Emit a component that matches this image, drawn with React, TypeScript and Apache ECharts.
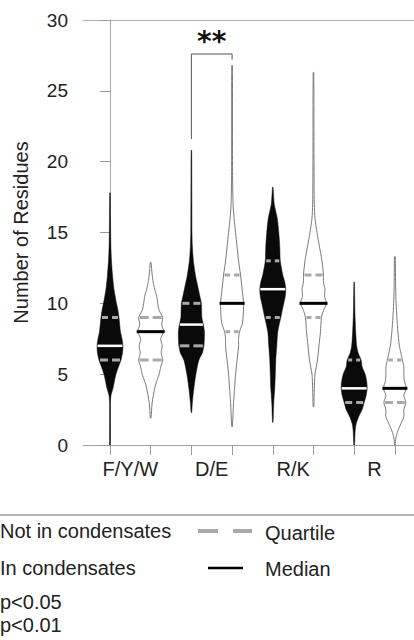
import React, { useEffect, useRef } from "react";
import * as echarts from "echarts";

// ---------- data ----------
const groupLabels = ["F/Y/W", "D/E", "R/K", "R"];
const groupLabelPos = [0.5, 2.5, 4.5, 6.5];
const violinPos = [0, 1, 2, 3, 4, 5, 6, 7];
const violinFilled = [true, false, true, false, true, false, true, false];

// [value, relative density] profiles
const fywFilled: number[][] = [[0, 0.35], [3, 0.4], [3.5, 1], [4, 3], [5, 6], [6, 11], [6.5, 12.5], [7, 13], [7.5, 12], [8, 10.5], [9, 9], [9.5, 8], [10, 6.5], [11, 4], [12, 2.5], [13, 1.5], [14, 0.9], [16, 0.5], [17.8, 0.25]];
const fywOpen: number[][] = [[1.9, 0.3], [3, 1.5], [4, 4], [4.5, 6], [5, 8.5], [5.5, 10], [6, 12], [6.5, 10.5], [7, 11.5], [7.5, 10], [8, 13], [8.5, 11], [9, 12], [9.5, 8.5], [10, 7], [10.5, 6], [11, 4], [11.5, 2.5], [12, 1.5], [12.9, 0.3]];
const deFilled: number[][] = [[2.3, 0.3], [3, 1], [4, 2.5], [5, 4.5], [6, 7.5], [6.5, 11], [7, 12.5], [7.5, 13], [8, 13], [8.5, 12], [9, 10.5], [10, 10], [10.5, 8.5], [11, 7], [12, 4], [13, 2], [14, 1], [15, 0.6], [17, 0.5], [19, 0.4], [20.8, 0.25]];
const deOpen: number[][] = [[1.3, 0.3], [3, 1.5], [4, 2.5], [5, 3.5], [6, 5], [7, 6.5], [7.5, 6.5], [8, 7.5], [8.5, 10], [9, 11], [10, 11.5], [11, 10], [12, 8.5], [13, 6.5], [14, 5], [15, 3.5], [16, 2], [17, 1], [19, 0.5], [22, 0.4], [26.8, 0.3]];
const rkFilled: number[][] = [[1.6, 0.25], [3, 1], [4, 2], [5, 2.5], [6, 3], [7, 4], [8, 5], [9, 8], [10, 11], [10.5, 12.5], [11, 13], [11.5, 12], [12, 10], [13, 7.5], [14, 7], [15, 6], [16, 4.5], [17, 1.5], [18.2, 0.25]];
const rkOpen: number[][] = [[2.7, 0.3], [4, 0.8], [5, 1.5], [6, 4], [7, 5.5], [8, 7], [9, 8], [9.5, 10], [10, 13], [10.5, 11], [11, 11.5], [11.5, 10], [12, 10], [13, 8.5], [14, 6], [15, 3.5], [16, 1.5], [17, 0.8], [20, 0.5], [26.3, 0.3]];
const rFilled: number[][] = [[0, 0.35], [1, 1], [1.5, 2], [2, 4.5], [2.5, 8], [3, 10], [3.5, 12], [4, 13], [4.5, 12.5], [5, 11], [5.5, 8], [6, 7], [6.5, 4], [7, 2.5], [8, 1.5], [9, 0.9], [10, 0.6], [11.5, 0.25]];
const rOpen: number[][] = [[0, 0.3], [0.5, 1], [1, 3], [1.5, 6], [2, 9], [2.5, 9], [3, 11], [3.5, 9], [4, 11.5], [4.5, 9.5], [5, 9], [5.5, 9], [6, 7.5], [6.5, 6], [7, 4.5], [8, 3], [9, 2], [10, 1.2], [11, 0.8], [13.3, 0.3]];

const profiles = [fywFilled, fywOpen, deFilled, deOpen, rkFilled, rkOpen, rFilled, rOpen];
const medians = [7, 8, 8.5, 10, 11, 10, 4, 4];
const lowerQuartiles = [6, 6, 7, 8, 9, 9, 3, 3];
const upperQuartiles = [9, 9, 10, 12, 13, 12, 6, 6];

const bracketX = [2, 3];
const bracketY = [21.6, 27.6, 27.2]; // left leg bottom, top, right leg bottom
const bracketLabel = "**";

const legendTexts = ["Not in condensates", "In condensates", "p<0.05", "p<0.01"];
const legendKeys = ["Quartile", "Median"];

// ---------- helpers ----------
const FONT = "'Liberation Sans', Arial, sans-serif";
const TEXT = "#222";

function densityAt(prof: number[][], v: number): number {
  for (let i = 0; i < prof.length - 1; i++) {
    const [v0, d0] = prof[i];
    const [v1, d1] = prof[i + 1];
    if (v >= v0 && v <= v1) return d0 + ((d1 - d0) * (v - v0)) / (v1 - v0);
  }
  return 0;
}

function renderViolin(params: any, api: any) {
  const i = params.dataIndex;
  const prof = profiles[i];
  const x = api.value(0);
  const unit = api.size([1, 0])[0] / 40.7;
  const pt = (v: number, d: number) => {
    const c = api.coord([x, v]);
    return [c[0] + d * unit, c[1]];
  };
  const right = prof.map(([v, d]) => pt(v, d));
  const left = prof.slice().reverse().map(([v, d]) => pt(v, -d));
  const filled = violinFilled[i];
  const children: any[] = [
    {
      type: "polygon",
      shape: { points: right.concat(left), smooth: 0.25 },
      style: filled
        ? { fill: "#0a0a0a", stroke: "#0a0a0a", lineWidth: 0.5 }
        : { fill: "#ffffff", stroke: "#7a7a7a", lineWidth: 1 },
    },
  ];
  const cx = api.coord([x, 0])[0];
  [lowerQuartiles[i], upperQuartiles[i]].forEach((q) => {
    const hw = densityAt(prof, q) * unit;
    const y = api.coord([x, q])[1];
    const gap = 2;
    children.push(
      { type: "line", shape: { x1: cx - hw + 1, y1: y, x2: cx - gap, y2: y }, style: { stroke: "#a8a8a8", lineWidth: 3 } },
      { type: "line", shape: { x1: cx + gap, y1: y, x2: cx + hw - 1, y2: y }, style: { stroke: "#a8a8a8", lineWidth: 3 } }
    );
  });
  const m = medians[i];
  const hwm = densityAt(prof, m) * unit;
  const ym = api.coord([x, m])[1];
  children.push({
    type: "line",
    shape: filled
      ? { x1: cx - hwm + 0.5, y1: ym, x2: cx + hwm - 0.5, y2: ym }
      : { x1: cx - hwm - 1, y1: ym, x2: cx + hwm + 1, y2: ym },
    style: { stroke: filled ? "#ffffff" : "#000000", lineWidth: filled ? 2.5 : 3 },
  });
  return { type: "group", children };
}

function renderBracket(params: any, api: any) {
  const p0 = api.coord([bracketX[0], bracketY[0]]);
  const p1 = api.coord([bracketX[0], bracketY[1]]);
  const p2 = api.coord([bracketX[1], bracketY[1]]);
  const p3 = api.coord([bracketX[1], bracketY[2]]);
  return {
    type: "group",
    children: [
      { type: "polyline", shape: { points: [p0, p1, p2, p3] }, style: { stroke: "#555", lineWidth: 1, fill: "none" } },
      {
        type: "text",
        x: (p1[0] + p2[0]) / 2,
        y: p1[1] + 1,
        style: {
          text: bracketLabel,
          fontSize: 28,
          fontWeight: "bold",
          fontFamily: "'DejaVu Sans', sans-serif",
          fill: "#111",
          align: "center",
          verticalAlign: "bottom",
        },
      },
    ],
  };
}

export default function App() {
  const ref = useRef<HTMLDivElement>(null);
  useEffect(() => {
    const chart = echarts.init(ref.current!, undefined, { renderer: "svg" });
    const xMin = -0.663;
    const xMax = 7.47;
    chart.setOption({
      animation: false,
      backgroundColor: "#ffffff",
      grid: { left: 83, right: 0, top: 20, bottom: 195 },
      xAxis: [
        {
          type: "value",
          min: xMin,
          max: xMax,
          position: "bottom",
          splitLine: { show: false },
          axisLine: { show: true, onZero: false, lineStyle: { color: "#a0a0a0", width: 1 } },
          axisTick: { show: true, customValues: violinPos, length: 10, lineStyle: { color: "#999" } },
          axisLabel: {
            show: true,
            customValues: groupLabelPos,
            formatter: (v: number) => {
              const k = groupLabelPos.findIndex((p) => Math.abs(p - v) < 1e-6);
              return k >= 0 ? groupLabels[k] : "";
            },
            fontSize: 20,
            color: TEXT,
            fontFamily: FONT,
            margin: 14,
          },
        },
        {
          type: "value",
          min: xMin,
          max: xMax,
          position: "top",
          splitLine: { show: false },
          axisLine: { show: true, onZero: false, lineStyle: { color: "#b0b0b0", width: 1 } },
          axisTick: { show: false },
          axisLabel: { show: false },
        },
      ],
      yAxis: {
        type: "value",
        min: 0,
        max: 30,
        interval: 5,
        name: "Number of Residues",
        nameLocation: "middle",
        nameGap: 52,
        nameTextStyle: { fontSize: 20, color: TEXT, fontFamily: FONT },
        axisLine: { show: true, lineStyle: { color: "#a8a8a8" } },
        axisTick: { show: true, length: 10, lineStyle: { color: "#999" } },
        axisLabel: { fontSize: 19, color: TEXT, fontFamily: FONT, margin: 15 },
        splitLine: { show: false },
      },
      series: [
        {
          type: "custom",
          renderItem: renderViolin,
          data: violinPos.map((p) => [p, 0]),
          encode: { x: 0, y: 1 },
          clip: false,
          silent: true,
        },
        {
          type: "custom",
          renderItem: renderBracket,
          data: [[bracketX[0], bracketY[1]]],
          encode: { x: 0, y: 1 },
          clip: false,
          silent: true,
        },
      ],
      graphic: [
        { type: "line", shape: { x1: 0, y1: 515, x2: 414, y2: 515 }, style: { stroke: "#999", lineWidth: 1.5 } },
        { type: "text", x: 0, y: 531, style: { text: legendTexts[0], fontSize: 20, fontFamily: FONT, fill: TEXT, verticalAlign: "middle" } },
        { type: "text", x: 0, y: 568, style: { text: legendTexts[1], fontSize: 20, fontFamily: FONT, fill: TEXT, verticalAlign: "middle" } },
        { type: "text", x: 0, y: 602, style: { text: legendTexts[2], fontSize: 20, fontFamily: FONT, fill: TEXT, verticalAlign: "middle" } },
        { type: "text", x: 0, y: 625, style: { text: legendTexts[3], fontSize: 20, fontFamily: FONT, fill: TEXT, verticalAlign: "middle" } },
        { type: "line", shape: { x1: 198, y1: 531, x2: 218, y2: 531 }, style: { stroke: "#a8a8a8", lineWidth: 4 } },
        { type: "line", shape: { x1: 233, y1: 531, x2: 252, y2: 531 }, style: { stroke: "#a8a8a8", lineWidth: 4 } },
        { type: "line", shape: { x1: 208, y1: 568, x2: 243, y2: 568 }, style: { stroke: "#000", lineWidth: 2.5 } },
        { type: "text", x: 265, y: 533, style: { text: legendKeys[0], fontSize: 20, fontFamily: FONT, fill: TEXT, verticalAlign: "middle" } },
        { type: "text", x: 265, y: 569, style: { text: legendKeys[1], fontSize: 20, fontFamily: FONT, fill: TEXT, verticalAlign: "middle" } },
      ],
    });
    return () => chart.dispose();
  }, []);
  return (
    <div
      ref={ref}
      style={{ position: "fixed", left: 0, top: 0, width: 414, height: 640, background: "#fff" }}
    />
  );
}
